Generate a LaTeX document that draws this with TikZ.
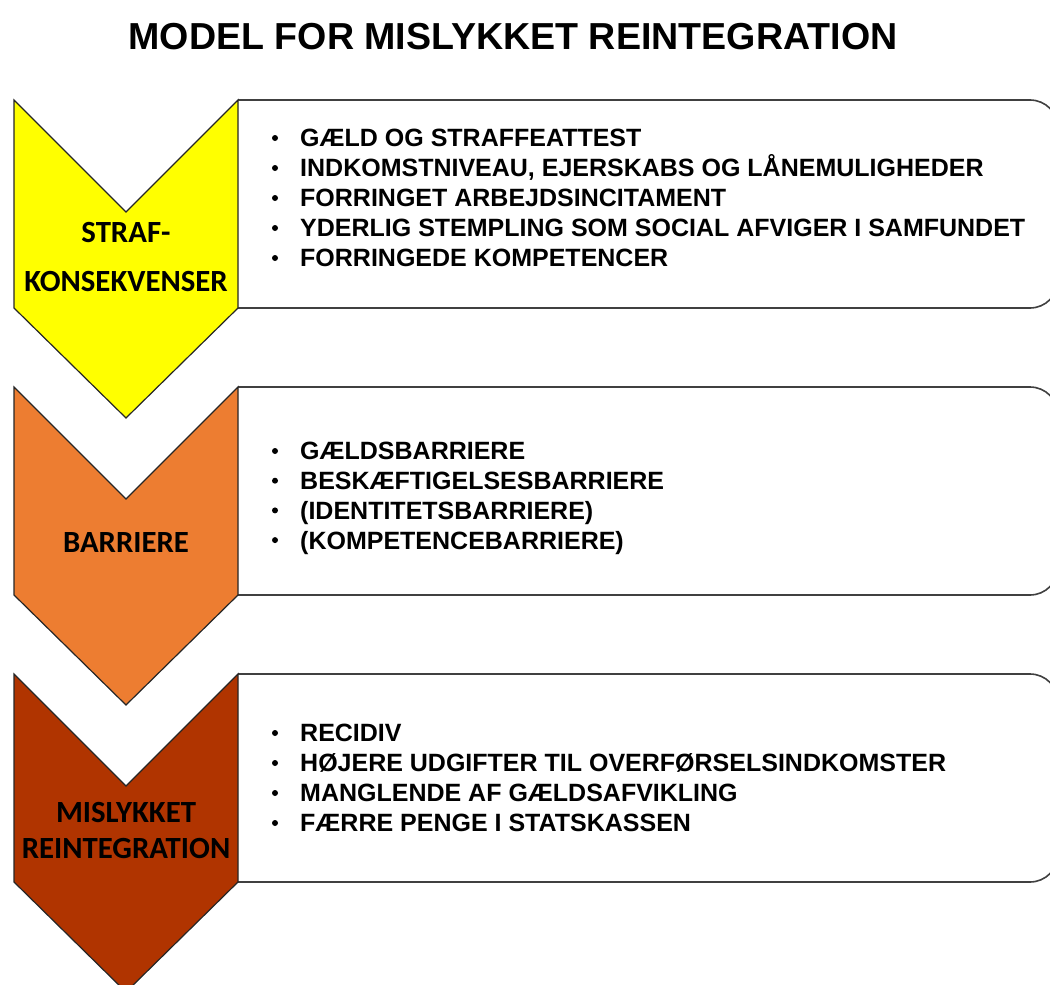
\documentclass[tikz,border=0pt]{standalone}
\usepackage{fontspec}
\setmainfont{Liberation Sans}
\newfontfamily\calfont{Carlito}
\definecolor{strafyellow}{RGB}{255,255,0}
\definecolor{barorange}{RGB}{237,125,49}
\definecolor{misbrown}{RGB}{176,52,0}

\begin{document}
\begin{tikzpicture}[x=1pt,y=-1pt,
  chev/.style={draw=black!85,line width=1.2pt,line join=miter},
  panel/.style={draw=black!75,line width=1.6pt,fill=white,rounded corners=28pt},
  label/.style={font=\calfont\bfseries\fontsize{30.8}{36}\selectfont,align=center,inner sep=0pt},
  item/.style={anchor=base west,inner sep=0pt,font=\bfseries\fontsize{25}{30}\selectfont}]
\useasboundingbox (0,0) rectangle (1050,985);
\node[anchor=base,inner sep=0pt,font=\bfseries\fontsize{37.6}{44}\selectfont] (title) at (513,49) {MODEL FOR MISLYKKET REINTEGRATION};
% panels and chevrons
\foreach \t/\col in {100/strafyellow,387/barorange,674/misbrown} {
  \draw[panel] (238,\t) -- (1058,\t) -- (1058,\t+208) -- (238,\t+208);
  \draw[chev,fill=\col] (14,\t) -- (126,\t+112) -- (238,\t) -- (238,\t+208) -- (126,\t+318) -- (14,\t+208) -- cycle;
}
\node[label] (straf) at (126,257.5) {STRAF-\\[13pt]KONSEKVENSER};
\node[label] (barr) at (126,543) {BARRIERE};
\node[label] (misl) at (126,830) {MISLYKKET\\REINTEGRATION};
% bullet lists
\foreach \txt [count=\i] in {GÆLD OG STRAFFEATTEST, {INDKOMSTNIVEAU, EJERSKABS OG LÅNEMULIGHEDER}, FORRINGET ARBEJDSINCITAMENT, YDERLIG STEMPLING SOM SOCIAL AFVIGER I SAMFUNDET, FORRINGEDE KOMPETENCER} {
  \node[item] (kons\i) at (300,116.9+30*\i) {\txt};
  \fill (275,108+30*\i) circle (3pt);
}
\foreach \txt [count=\i] in {GÆLDSBARRIERE, BESKÆFTIGELSESBARRIERE, (IDENTITETSBARRIERE), (KOMPETENCEBARRIERE)} {
  \node[item] (barr\i) at (300,430.2+29.7*\i) {\txt};
  \fill (275,421.3+29.7*\i) circle (3pt);
}
\foreach \txt [count=\i] in {RECIDIV, HØJERE UDGIFTER TIL OVERFØRSELSINDKOMSTER, MANGLENDE AF GÆLDSAFVIKLING, FÆRRE PENGE I STATSKASSEN} {
  \node[item] (misl\i) at (300,711.9+30*\i) {\txt};
  \fill (275,703+30*\i) circle (3pt);
}
\end{tikzpicture}
\end{document}
